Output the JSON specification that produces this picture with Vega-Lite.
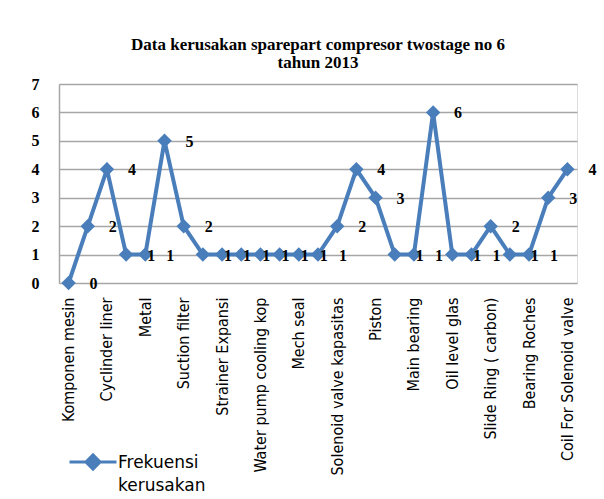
{
  "$schema": "https://vega.github.io/schema/vega-lite/v6.json",
  "width": 518,
  "height": 199,
  "autosize": {"type": "none"},
  "padding": {"left": 59, "top": 84, "right": 27, "bottom": 216},
  "background": "white",
  "title": {
    "text": ["Data kerusakan sparepart compresor twostage no 6", "tahun 2013"],
    "font": "Liberation Serif",
    "fontSize": 17,
    "fontWeight": "bold",
    "color": "black",
    "anchor": "middle",
    "offset": 4,
    "lineHeight": 18
  },
  "data": {
    "values": [
      {"komponen": "Komponen mesin", "frekuensi": 0, "seri": "Frekuensi kerusakan"},
      {"komponen": "Komponen 2", "frekuensi": 2, "seri": "Frekuensi kerusakan"},
      {"komponen": "Cyclinder liner", "frekuensi": 4, "seri": "Frekuensi kerusakan"},
      {"komponen": "Komponen 4", "frekuensi": 1, "seri": "Frekuensi kerusakan"},
      {"komponen": "Metal", "frekuensi": 1, "seri": "Frekuensi kerusakan"},
      {"komponen": "Komponen 6", "frekuensi": 5, "seri": "Frekuensi kerusakan"},
      {"komponen": "Suction filter", "frekuensi": 2, "seri": "Frekuensi kerusakan"},
      {"komponen": "Komponen 8", "frekuensi": 1, "seri": "Frekuensi kerusakan"},
      {"komponen": "Strainer Expansi", "frekuensi": 1, "seri": "Frekuensi kerusakan"},
      {"komponen": "Komponen 10", "frekuensi": 1, "seri": "Frekuensi kerusakan"},
      {"komponen": "Water pump cooling kop", "frekuensi": 1, "seri": "Frekuensi kerusakan"},
      {"komponen": "Komponen 12", "frekuensi": 1, "seri": "Frekuensi kerusakan"},
      {"komponen": "Mech seal", "frekuensi": 1, "seri": "Frekuensi kerusakan"},
      {"komponen": "Komponen 14", "frekuensi": 1, "seri": "Frekuensi kerusakan"},
      {"komponen": "Solenoid valve kapasitas", "frekuensi": 2, "seri": "Frekuensi kerusakan"},
      {"komponen": "Komponen 16", "frekuensi": 4, "seri": "Frekuensi kerusakan"},
      {"komponen": "Piston", "frekuensi": 3, "seri": "Frekuensi kerusakan"},
      {"komponen": "Komponen 18", "frekuensi": 1, "seri": "Frekuensi kerusakan"},
      {"komponen": "Main bearing", "frekuensi": 1, "seri": "Frekuensi kerusakan"},
      {"komponen": "Komponen 20", "frekuensi": 6, "seri": "Frekuensi kerusakan"},
      {"komponen": "Oil level glas", "frekuensi": 1, "seri": "Frekuensi kerusakan"},
      {"komponen": "Komponen 22", "frekuensi": 1, "seri": "Frekuensi kerusakan"},
      {"komponen": "Slide Ring ( carbon)", "frekuensi": 2, "seri": "Frekuensi kerusakan"},
      {"komponen": "Komponen 24", "frekuensi": 1, "seri": "Frekuensi kerusakan"},
      {"komponen": "Bearing Roches", "frekuensi": 1, "seri": "Frekuensi kerusakan"},
      {"komponen": "Komponen 26", "frekuensi": 3, "seri": "Frekuensi kerusakan"},
      {"komponen": "Coil For Solenoid valve", "frekuensi": 4, "seri": "Frekuensi kerusakan"}
    ]
  },
  "encoding": {
    "x": {
      "field": "komponen",
      "type": "nominal",
      "sort": null,
      "scale": {"type": "point", "padding": 0.5},
      "axis": {
        "title": null,
        "labelAngle": -90,
        "labelAlign": "right",
        "labelBaseline": "middle",
        "labelFont": "DejaVu Sans Condensed",
        "labelFontSize": 16,
        "labelColor": "black",
        "labelPadding": 14,
        "labelOverlap": false,
        "labelExpr": "round(datum.index * 26) % 2 == 1 ? '' : datum.label",
        "ticks": false,
        "domain": false,
        "grid": false
      }
    },
    "y": {
      "field": "frekuensi",
      "type": "quantitative",
      "scale": {"domain": [0, 7]},
      "axis": {
        "title": null,
        "values": [0, 1, 2, 3, 4, 5, 6, 7],
        "labelFont": "Liberation Serif",
        "labelFontSize": 16,
        "labelFontWeight": "bold",
        "labelColor": "black",
        "labelPadding": 20,
        "ticks": false,
        "domain": true,
        "domainColor": "#a6a6a6",
        "domainWidth": 1.5,
        "grid": true,
        "gridColor": "#a6a6a6",
        "gridWidth": 1.5
      }
    }
  },
  "layer": [
    {
      "mark": {"type": "line", "strokeWidth": 4},
      "encoding": {
        "color": {
          "field": "seri",
          "type": "nominal",
          "scale": {"range": ["#4a7ebb"]},
          "legend": {
            "title": null,
            "orient": "none",
            "legendX": 9,
            "legendY": 353,
            "symbolType": "M-1,0H1M-0.3,0L0,-0.3L0.3,0L0,0.3Z",
            "symbolSize": 2209,
            "symbolStrokeWidth": 3,
            "labelFont": "DejaVu Sans",
            "labelFontSize": 17,
            "labelColor": "black",
            "labelOffset": 0,
            "labelLimit": 300,
            "labelExpr": "['Frekuensi', 'kerusakan']",
            "labelBaseline": "top",
            "encode": {
              "symbols": {"update": {"fill": {"value": "#4a7ebb"}, "stroke": {"value": "#4a7ebb"}}},
              "labels": {"update": {"dy": {"value": -7}, "lineHeight": {"value": 23}}}
            }
          }
        }
      }
    },
    {
      "mark": {"type": "point", "shape": "diamond", "size": 210, "filled": true, "opacity": 1, "color": "#4a7ebb"}
    },
    {
      "mark": {"type": "text", "align": "left", "baseline": "middle", "dx": 21, "dy": 1, "font": "Liberation Serif", "fontSize": 16, "fontWeight": "bold", "color": "black"},
      "encoding": {"text": {"field": "frekuensi", "type": "quantitative"}}
    }
  ]
}
